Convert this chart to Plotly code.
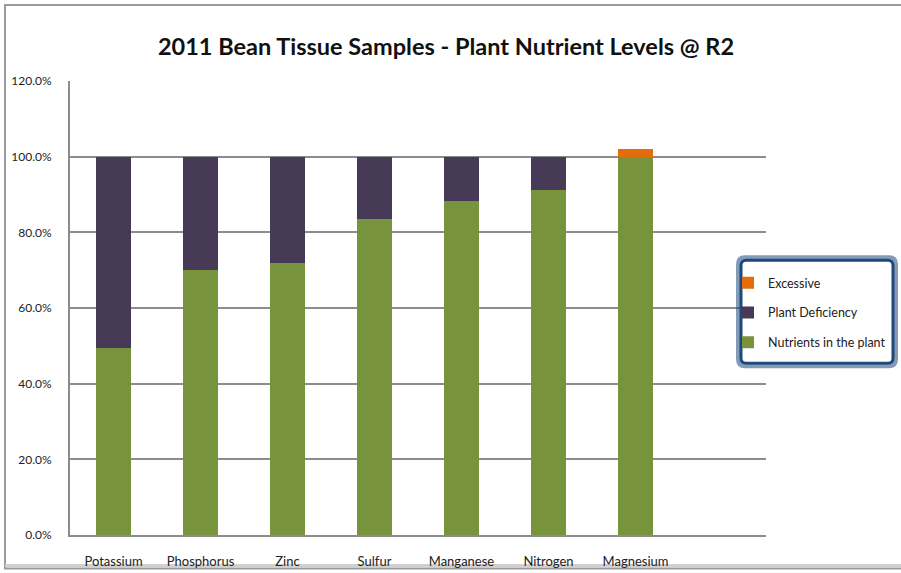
import plotly.graph_objects as go

categories = ["Potassium", "Phosphorus", "Zinc", "Sulfur", "Manganese", "Nitrogen", "Magnesium"]
nutrients_in_plant = [49.3, 70.0, 71.8, 83.5, 88.3, 91.2, 100.0]
plant_deficiency = [50.7, 30.0, 28.2, 16.5, 11.7, 8.8, 0.0]
excessive = [0.0, 0.0, 0.0, 0.0, 0.0, 0.0, 2.0]
y_ticks = [0, 20, 40, 60, 80, 100, 120]

FONT = "Lato, sans-serif"

fig = go.Figure()
fig.add_trace(go.Bar(x=categories, y=[v / 100 for v in nutrients_in_plant], name="Nutrients in the plant",
                     marker=dict(color="#77933C", line=dict(width=0)), width=0.4,
                     legendgroup="a", legendrank=3))
fig.add_trace(go.Bar(x=categories, y=[v / 100 for v in plant_deficiency], name="Plant Deficiency",
                     marker=dict(color="#473A57", line=dict(width=0)), width=0.4,
                     legendgroup="b", legendrank=2))
fig.add_trace(go.Bar(x=categories, y=[v / 100 for v in excessive], name="Excessive",
                     marker=dict(color="#E46C0A", line=dict(width=0)), width=0.4,
                     legendgroup="c", legendrank=1))

L, R, T, B = 70, 766, 81, 534.6
W, H = 901, 573
pw, ph = R - L, B - T

def px(x):
    return (x - L) / pw

def py(y):
    return (B - y) / ph

def rounded_rect(x0, y0, x1, y1, r):
    def P(x, y):
        return f"{px(x):.5f},{py(y):.5f}"
    return (f"M {P(x0 + r, y0)} L {P(x1 - r, y0)} Q {P(x1, y0)} {P(x1, y0 + r)} "
            f"L {P(x1, y1 - r)} Q {P(x1, y1)} {P(x1 - r, y1)} "
            f"L {P(x0 + r, y1)} Q {P(x0, y1)} {P(x0, y1 - r)} "
            f"L {P(x0, y0 + r)} Q {P(x0, y0)} {P(x0 + r, y0)} Z")

fig.update_layout(
    width=W, height=H,
    margin=dict(l=L, r=W - R, t=T, b=H - B, pad=0, autoexpand=False),
    barmode="stack",
    plot_bgcolor="white", paper_bgcolor="white",
    font=dict(family=FONT, size=12, color="#222"),
    title=dict(text="<b>2011 Bean Tissue Samples - Plant Nutrient Levels @ R2</b>",
               x=446 / W, xanchor="center", xref="container",
               y=1 - 47 / H, yanchor="middle", yref="container",
               font=dict(family=FONT, size=23.5, color="#111")),
    xaxis=dict(range=[-0.5, 7.5], showline=True, linecolor="#8c8c8c", linewidth=2,
               showgrid=False, ticks="", ticklabelstandoff=13, automargin=False,
               tickfont=dict(size=13, color="#222")),
    yaxis=dict(range=[0, 1.2], tickvals=[v / 100 for v in y_ticks], tickformat=".1%",
               showline=True, linecolor="#8c8c8c", linewidth=2,
               showgrid=True, gridcolor="#8c8c8c", gridwidth=2, ticks="",
               ticklabelstandoff=14, zeroline=False, automargin=False,
               tickfont=dict(size=12, color="#222")),
    legend=dict(x=px(728), y=py(268), xanchor="left", yanchor="top",
                traceorder="grouped", tracegroupgap=10.5,
                bordercolor="rgba(0,0,0,0)", borderwidth=0, bgcolor="rgba(0,0,0,0)",
                font=dict(size=12.5, color="#222")),
    showlegend=True,
    bargap=0.6,
)

# legend box with glow
fig.add_shape(type="path", xref="paper", yref="paper",
              path=rounded_rect(738, 257, 896, 366, 7),
              line=dict(color="rgba(31,73,125,0.55)", width=4), fillcolor="rgba(0,0,0,0)", layer="above")
fig.add_shape(type="path", xref="paper", yref="paper",
              path=rounded_rect(741, 260, 893, 363, 5),
              line=dict(color="#1F497D", width=3), fillcolor="white", layer="above")

# outer frame
fig.add_shape(type="rect", xref="paper", yref="paper",
              x0=px(5), x1=px(910), y0=py(568), y1=py(5),
              line=dict(color="#9a9a9a", width=2), layer="below")
fig.add_shape(type="line", xref="paper", yref="paper",
              x0=px(5), x1=px(910), y0=py(565), y1=py(565),
              line=dict(color="#d0d0d0", width=3), layer="below")

fig.write_html("out.html", config={"displayModeBar": False},
               post_script="document.body.style.margin='0px';document.body.style.overflow='hidden';")
